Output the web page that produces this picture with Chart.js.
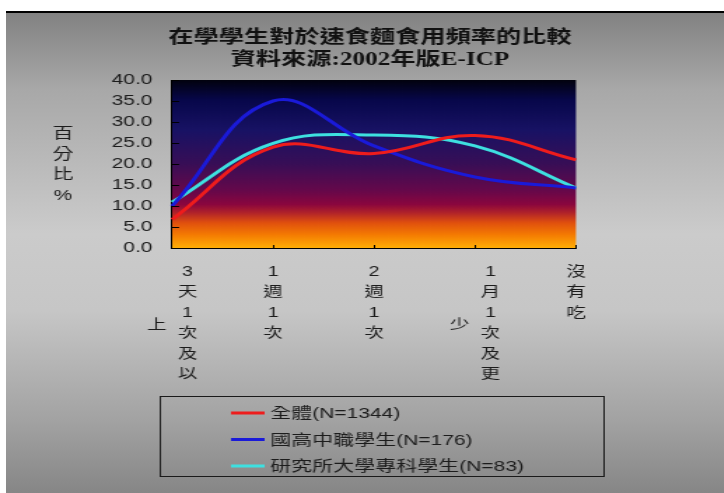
<!DOCTYPE html>
<html lang="zh-Hant">
<head>
<meta charset="utf-8">
<title>在學學生對於速食麵食用頻率的比較</title>
<script src="https://cdn.jsdelivr.net/npm/chart.js@4/dist/chart.umd.min.js"></script>
<style>
  html, body { margin: 0; padding: 0; background: #fff; }
  body { width: 724px; height: 493px; position: relative; overflow: hidden; }
  #bg {
    position: absolute; left: 6px; top: 11px; width: 718px; height: 480px;
    border-top: 2px solid #000;
    background: linear-gradient(to bottom, #828282 0%, #a8a8a8 16%, #cbcbcb 46%, #c6c6c6 62%, #a2a2a2 85%, #868686 100%);
  }
  /* the chart is laid out on a narrower canvas and widened horizontally */
  #wrap {
    position: absolute; left: 0; top: 0; width: 517px; height: 493px;
    transform: scaleX(1.4); transform-origin: 0 0;
  }
</style>
</head>
<body>
<div id="bg"></div>
<div id="wrap"><canvas id="c"></canvas></div>
<script>
// ---- data ----
const categories = ['3天1次及以上', '1週1次', '2週1次', '1月1次及更少', '沒有吃'];
const seriesNames = ['全體(N=1344)', '國高中職學生(N=176)', '研究所大學專科學生(N=83)'];
const allStudents = [6.8, 24.0, 22.5, 26.8, 21.0];
const highSchool  = [10.0, 35.0, 24.3, 16.9, 14.3];
const college     = [10.9, 24.9, 26.9, 24.3, 14.3];
const seriesColors = ['#ee1c1c', '#1a1ad8', '#3ee0e0'];
const titleLines = ['在學學生對於速食麵食用頻率的比較', '資料來源:2002年版E-ICP'];
const yAxisTitle = '百分比%';
const yMin = 0, yMax = 40, yStep = 5;

const SANS = "'Liberation Sans', 'Noto Sans CJK TC', sans-serif";
const TITLE_FONT = "bold 18px 'Liberation Serif', 'Noto Sans CJK TC', serif";
const TEXT = '#1c1c1c';

// dark-to-amber fill behind the plot
const plotBackground = {
  id: 'plotBackground',
  beforeDraw(chart) {
    const { ctx, chartArea: a } = chart;
    const g = ctx.createLinearGradient(0, a.top, 0, a.bottom);
    g.addColorStop(0.00, '#02020e');
    g.addColorStop(0.12, '#07074a');
    g.addColorStop(0.30, '#181264');
    g.addColorStop(0.50, '#380e56');
    g.addColorStop(0.66, '#66084a');
    g.addColorStop(0.74, '#8a063e');
    g.addColorStop(0.79, '#b0222a');
    g.addColorStop(0.85, '#e0500e');
    g.addColorStop(0.92, '#f47a02');
    g.addColorStop(1.00, '#ffae06');
    ctx.save();
    ctx.fillStyle = g;
    ctx.fillRect(a.left, a.top, a.right - a.left, a.bottom - a.top);
    ctx.restore();
  }
};

// titles, inward ticks, stacked category labels, axis title and boxed legend
const decorations = {
  id: 'decorations',
  afterDraw(chart) {
    const { ctx, chartArea: a, scales } = chart;
    const xs = scales.x, ys = scales.y;
    ctx.save();

    // inward tick marks
    ctx.strokeStyle = '#000';
    ctx.lineWidth = 1;
    ctx.beginPath();
    for (let v = yMin; v <= yMax; v += yStep) {
      const y = Math.round(ys.getPixelForValue(v)) + 0.5;
      ctx.moveTo(a.left, y); ctx.lineTo(a.left + 5, y);
    }
    for (let i = 1; i < categories.length; i++) {
      const x = Math.round(xs.getPixelForValue(i)) + 0.5;
      ctx.moveTo(x, a.bottom); ctx.lineTo(x, a.bottom - 3);
    }
    ctx.stroke();

    // chart title
    ctx.fillStyle = '#111';
    ctx.font = TITLE_FONT;
    ctx.textAlign = 'center';
    ctx.textBaseline = 'middle';
    const cx = (a.left + a.right) / 2 - 3;
    titleLines.forEach((t, i) => ctx.fillText(t, cx, 38 + i * 22));

    // y-axis title, one character per row
    ctx.font = '15px ' + SANS;
    ctx.fillStyle = TEXT;
    [...yAxisTitle].forEach((ch, i) => ctx.fillText(ch, 45, 134 + i * 20.6));

    // category labels: vertical text, six characters per column,
    // extra columns continue to the left, block centred on the tick
    const perCol = 6, rowH = 20.5, firstRow = a.bottom + 24, colGap = 22;
    ctx.font = '14px ' + SANS;
    categories.forEach((label, i) => {
      const chars = [...label];
      const cols = [];
      for (let k = 0; k < chars.length; k += perCol) cols.push(chars.slice(k, k + perCol));
      const tx = xs.getPixelForValue(i);
      const blockW = (cols.length - 1) * colGap;
      cols.forEach((col, c) => {
        const x = tx + blockW / 2 - c * colGap;
        const y0 = c === 0 ? firstRow : firstRow + ((perCol - col.length) / 2) * rowH + 2;
        col.forEach((ch, r) => ctx.fillText(ch, x, y0 + r * rowH));
      });
    });

    // legend box
    const lx = 114.5, ly = 396.5, lw = 317, lh = 80;
    ctx.strokeStyle = '#1a1a1a';
    ctx.lineWidth = 1;
    ctx.strokeRect(lx, ly, lw, lh);
    ctx.font = '15px ' + SANS;
    ctx.textAlign = 'left';
    chart.data.datasets.forEach((ds, i) => {
      const y = 413 + i * 26.5;
      ctx.strokeStyle = ds.borderColor;
      ctx.lineWidth = 3;
      ctx.beginPath();
      ctx.moveTo(165, y); ctx.lineTo(189, y);
      ctx.stroke();
      ctx.fillStyle = TEXT;
      ctx.fillText(ds.label, 193, y + 1);
    });

    ctx.restore();
  }
};

const seriesValues = [allStudents, highSchool, college];

new Chart(document.getElementById('c'), {
  type: 'line',
  data: {
    labels: categories,
    datasets: seriesValues.map((vals, i) => ({
      label: seriesNames[i],
      data: vals,
      borderColor: seriesColors[i],
      borderWidth: 3,
      pointRadius: 0,
      tension: 0.4,
      fill: false,
      clip: false
    }))
  },
  options: {
    responsive: true,
    maintainAspectRatio: false,
    animation: false,
    devicePixelRatio: 1,
    layout: { padding: { left: 80, top: 80, right: 105.6, bottom: 245 } },
    plugins: {
      legend: { display: false },
      title: { display: false },
      tooltip: { enabled: false }
    },
    scales: {
      x: {
        type: 'category',
        offset: false,
        ticks: { display: false },
        grid: { display: true, drawOnChartArea: false, drawTicks: false, color: 'rgba(0,0,0,0)' },
        border: { display: true, color: '#000', width: 1 },
        afterFit(scale) { scale.height = 0; }
      },
      y: {
        min: yMin,
        max: yMax,
        ticks: {
          stepSize: yStep,
          padding: 14,
          color: TEXT,
          font: { family: SANS, size: 15 },
          callback: v => Number(v).toFixed(1)
        },
        grid: { display: true, drawOnChartArea: false, drawTicks: false, color: 'rgba(0,0,0,0)' },
        border: { display: true, color: '#000', width: 1 },
        afterFit(scale) { scale.width = 42.9; }
      }
    }
  },
  plugins: [plotBackground, decorations]
});
</script>
</body>
</html>
